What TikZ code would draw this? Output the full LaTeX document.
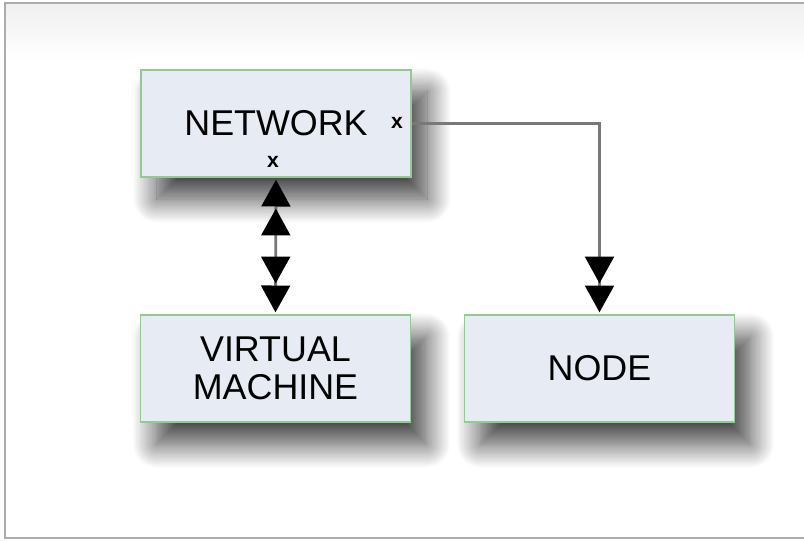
\documentclass[tikz,border=0pt]{standalone}
\usepackage{fontspec}
\setmainfont{Liberation Sans}
\usepackage{tikz}
\usetikzlibrary{arrows.meta, positioning, shadows.blur}
\usepackage{xcolor}
\definecolor{boxfill}{RGB}{231,235,243}
\definecolor{boxline}{RGB}{150,200,150}
\definecolor{wire}{RGB}{120,120,120}

\begin{document}
\begin{tikzpicture}[x=0.025cm, y=-0.025cm,
    box/.style={draw=boxline, fill=boxfill, line width=0.8pt, inner sep=0pt,
      minimum width=6.75cm, minimum height=2.675cm, align=center,
      font=\fontsize{25.5}{27}\selectfont,
      blur shadow={shadow xshift=0.4cm, shadow yshift=-0.55cm, shadow blur radius=0.6cm,
        shadow blur steps=20, shadow opacity=75}},
    xmark/.style={font=\fontsize{15}{15}\selectfont\bfseries, inner sep=0pt},
    bighead/.tip={Triangle[length=0.67cm, width=0.72cm, sep=1.5pt, color=black]},
    wire/.style={draw=wire, line width=2pt}]
      \useasboundingbox (0,0) rectangle (804,541);
      % frame
      \shade[top color=gray!12, bottom color=white] (6,4) rectangle (804,60);
      \draw[gray!65, line width=1.5pt] (804,3) -- (5,3) -- (5,538) -- (804,538);
      \node[box] (net) at (276,123.5) {NETWORK};
      \node[box] (vm) at (275.5,368.5) {VIRTUAL\\MACHINE};
      \node[box] (nodebox) at (599.5,368.5) {NODE};
      \node[xmark] (xr) at (397,123) {x};
      \node[xmark] (xb) at (273,162) {x};
      \draw[wire, {bighead[]bighead[]}-{bighead[]bighead[]}] (net.south) -- (vm.north);
      \draw[wire, -{bighead[]bighead[]}] (net.east) -| (nodebox.north);
    \end{tikzpicture}
\end{document}
